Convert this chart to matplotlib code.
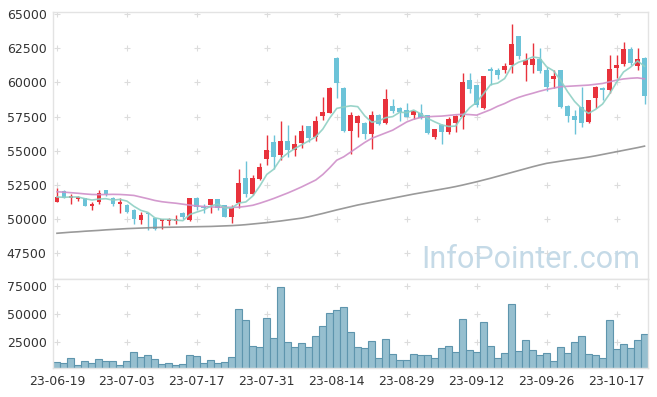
import matplotlib
matplotlib.use("Agg")
import matplotlib.pyplot as plt
import numpy as np
import pandas as pd

tick_labels = ['23-06-19', '23-07-03', '23-07-17', '23-07-31', '23-08-14',
               '23-08-29', '23-09-12', '23-09-26', '23-10-17']

opens = [51267, 52047, 51510, 51462, 51510, 50975, 51267, 52100, 51560, 51072,
         51023, 50682, 49951, 50439, 50049, 49830, 49830, 49878, 50414, 49927,
         51535, 50902, 51000, 51438, 51000, 50170, 51194, 52997, 51827, 52946,
         54361, 55629, 54654, 55678, 55044, 55580, 56798, 55970, 57529, 57773,
         61769, 59576, 56455, 57040, 57040, 56214, 57627, 56994, 58260, 58114,
         57968, 57627, 57773, 57578, 55970, 56896, 56360, 56994, 57479, 60161,
         59774, 58114, 60943, 60894, 60894, 61235, 63377, 61235, 61235, 61674,
         60894, 60257, 60914, 58283, 57553, 58187, 57069, 58867, 59554, 59408,
         61060, 61353, 62478, 61206, 61791]
closes = [51608, 51557, 51657, 51608, 50975, 51120, 51900, 51803, 51072, 51267,
          50487, 50000, 50292, 50341, 49269, 49976, 49976, 50024, 50122, 51535,
          50853, 50804, 51438, 50804, 50170, 50804, 52608, 51827, 52997, 53825,
          55044, 54508, 55678, 55044, 55483, 56455, 55921, 57186, 57822, 59576,
          59964, 56455, 57580, 57529, 56214, 57627, 56945, 58750, 57919, 57822,
          57479, 57871, 57383, 56263, 56555, 56360, 57288, 57529, 60015, 59525,
          58356, 60453, 60841, 60548, 61184, 62843, 61963, 61623, 61674, 60841,
          59627, 60453, 58187, 57505, 57260, 57018, 58677, 59649, 59452, 60965,
          61257, 62478, 61403, 61747, 59013]
highs = [52290, 52100, 51851, 51705, 51560, 51267, 52100, 52145, 51608, 51510,
         51072, 50730, 50536, 50463, 50097, 50024, 50073, 50317, 50512, 51535,
         51584, 51096, 51487, 51487, 51048, 51048, 53680, 54215, 53241, 54068,
         56118, 56118, 57142, 56850, 56118, 56850, 56798, 57529, 58940, 59674,
         61864, 59625, 57822, 57578, 57089, 57919, 57676, 59525, 58750, 58163,
         58457, 57871, 58407, 57627, 56604, 56945, 57479, 57627, 60651, 60694,
         59822, 60502, 61133, 61038, 61426, 64255, 63426, 62157, 62887, 62500,
         61133, 60894, 60914, 58332, 57991, 59649, 58726, 59698, 59649, 62040,
         62040, 62960, 62575, 62522, 61840]
lows = [51267, 51510, 51072, 51316, 50925, 50633, 51072, 51657, 50975, 50439,
        50439, 49659, 49659, 49172, 49172, 49245, 49537, 49635, 50024, 49830,
        50658, 50463, 50463, 50658, 50122, 49683, 50804, 51632, 51730, 52849,
        53922, 53680, 54313, 54557, 54606, 55190, 55629, 55727, 57235, 57773,
        58844, 56358, 54752, 55970, 55873, 55093, 56847, 56945, 57724, 57142,
        57431, 57288, 57288, 56214, 55873, 55483, 56214, 56360, 56601, 59189,
        58210, 58065, 59822, 60257, 60651, 60651, 61718, 60066, 60651, 60699,
        59379, 59576, 58138, 57113, 56192, 56725, 57018, 58138, 58721, 59211,
        60285, 61162, 61306, 60870, 58430]
volumes = [6850, 5950, 10420, 4170, 7740, 5950, 9520, 7740, 7740, 4170,
           7740, 15770, 11310, 13100, 9520, 5060, 5950, 4170, 5060, 13100,
           12200, 5950, 8630, 5950, 6850, 11310, 54170, 44350, 21130, 20240,
           46130, 28270, 73810, 24700, 20240, 23810, 20240, 30060, 38990, 50600,
           53270, 55950, 33630, 20240, 19350, 25650, 10420, 27380, 14000, 8630,
           8630, 14000, 13100, 13100, 10420, 19350, 21130, 15770, 45240, 17560,
           15770, 42560, 21130, 10420, 14880, 58630, 16670, 26490, 17560, 13100,
           14880, 7740, 20240, 14880, 24700, 30060, 14000, 13100, 10420, 44350,
           18450, 22920, 19350, 26490, 31850]
ma20 = [51990, 51960, 51920, 51880, 51830, 51790, 51780, 51790, 51800, 51790,
        51760, 51720, 51600, 51480, 51350, 51260, 51200, 51150, 51080, 51010,
        50950, 50910, 50880, 50860, 50850, 50850, 50860, 50920, 51000, 51150,
        51320, 51500, 51700, 51900, 52120, 52350, 52600, 52850, 53250, 53750,
        54300, 54550, 54900, 55250, 55600, 55900, 56100, 56300, 56500, 56800,
        57100, 57300, 57430, 57480, 57510, 57530, 57580, 57630, 57660, 57640,
        57600, 57800, 58000, 58250, 58450, 58700, 58900, 59060, 59200, 59350,
        59480, 59580, 59680, 59710, 59740, 59770, 59800, 59860, 59920, 60040,
        60160, 60250, 60300, 60330, 60260]
ma60 = [48950, 48990, 49030, 49060, 49100, 49130, 49160, 49200, 49230, 49260,
        49290, 49310, 49330, 49350, 49370, 49380, 49390, 49400, 49410, 49420,
        49430, 49440, 49450, 49470, 49490, 49510, 49540, 49580, 49630, 49680,
        49730, 49790, 49850, 49920, 49990, 50060, 50160, 50280, 50400, 50530,
        50660, 50780, 50900, 51020, 51120, 51220, 51320, 51420, 51520, 51620,
        51720, 51820, 51910, 52000, 52090, 52180, 52270, 52370, 52480, 52600,
        52720, 52850, 52980, 53120, 53260, 53400, 53540, 53680, 53820, 53950,
        54070, 54150, 54230, 54310, 54380, 54450, 54530, 54620, 54720, 54820,
        54920, 55020, 55120, 55220, 55330]

price_ticks = [47500, 50000, 52500, 55000, 57500, 60000, 62500, 65000]
vol_ticks = [25000, 50000, 75000]

UP = '#e8323c'
DOWN = '#6cc3d8'
GRIDC = '#dcdcdc'
SPINE = '#e3e3e3'

o = np.array(opens, float); c = np.array(closes, float)
h = np.array(highs, float); l = np.array(lows, float)
n = len(o)
x = np.arange(n)
ma5 = pd.Series(c).rolling(5, min_periods=1).mean().values

fig = plt.figure(figsize=(6.57, 3.97), dpi=100)
ax = fig.add_axes([0.0814, 0.2972, 0.9049, 0.6725])
axv = fig.add_axes([0.0814, 0.0723, 0.9049, 0.2249])

xtick_pos = np.arange(0, n, 10)[:len(tick_labels)]

for a in (ax, axv):
    for s in a.spines.values():
        s.set_color(SPINE)
        s.set_linewidth(1)
    a.tick_params(length=0, labelsize=9, labelcolor='#333333', pad=5)
    a.set_xlim(-0.5, n - 0.5)

# grid crosses
gx, gy = np.meshgrid(xtick_pos, price_ticks)
ax.scatter(gx.ravel(), gy.ravel(), marker='+', s=18, color=GRIDC, linewidths=0.8, zorder=0)
gx2, gy2 = np.meshgrid(xtick_pos, vol_ticks)
axv.scatter(gx2.ravel(), gy2.ravel(), marker='+', s=18, color=GRIDC, linewidths=0.8, zorder=0)

colors = np.where(c >= o, UP, DOWN)
ax.vlines(x, l, h, colors=colors, linewidth=1.0, zorder=2)
body_bottom = np.minimum(o, c)
body_h = np.maximum(np.abs(c - o), 40)
ax.bar(x, body_h, bottom=body_bottom, width=0.68, color=colors, linewidth=0, zorder=3)

ax.plot(x, ma60, color='#8f8f8f', linewidth=1.2, alpha=0.9, zorder=4)
ax.plot(x, ma20, color='#cf8fc9', linewidth=1.2, alpha=0.9, zorder=4)
ax.plot(x, ma5, color='#8fd0c4', linewidth=1.2, alpha=0.9, zorder=4)

ax.set_ylim(45600, 65150)
ax.set_yticks(price_ticks)
ax.set_yticklabels([str(t) for t in price_ticks])
ax.set_xticks(xtick_pos)
ax.set_xticklabels([])

ax.text(0.9866, 0.041, 'InfoPointer.com', transform=ax.transAxes, ha='right',
        va='baseline', fontsize=22, family='Roboto', color='#c5dae7', zorder=1)

axv.bar(x, volumes, width=1.0, color='#96bfcf', edgecolor='#5e95ad', linewidth=0.8, zorder=2)
axv.set_ylim(1500, 81000)
axv.set_yticks(vol_ticks)
axv.set_yticklabels([str(t) for t in vol_ticks])
axv.set_xticks(xtick_pos)
axv.set_xticklabels(tick_labels)

fig.savefig('out.png', dpi=100, facecolor='white')
